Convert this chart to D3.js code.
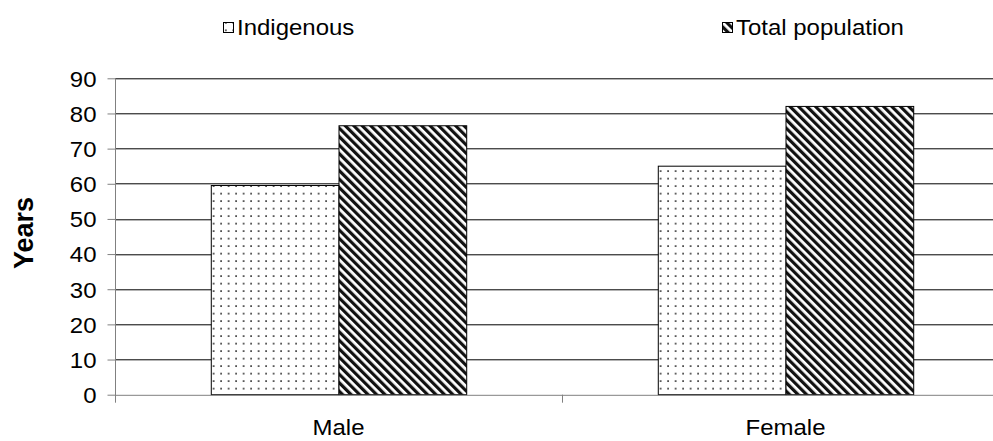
<!DOCTYPE html>
<html>
<head>
<meta charset="utf-8">
<script src="https://cdn.jsdelivr.net/npm/d3@7/dist/d3.min.js"></script>
<style>
  html, body { margin: 0; padding: 0; background: #fff; }
  svg { display: block; font-family: "Liberation Sans", Arial, sans-serif; }
</style>
</head>
<body>
<svg id="chart" width="993" height="441"></svg>
<script>
// Life expectancy at birth (years)
const categories = ["Male", "Female"];
const seriesNames = ["Indigenous", "Total population"];
const indigenous = [59.5, 65.0];
const totalPopulation = [76.5, 82.0];
const yTicks = [0, 10, 20, 30, 40, 50, 60, 70, 80, 90];

const FS = 22;          // label font size
const SX = 1.09;        // slightly wide lettering

const svg = d3.select("#chart");
const margin = { left: 115, top: 78.3, right: -16, bottom: 46.3 };
const W = 993, H = 441;
const plotW = W - margin.left - margin.right;
const plotH = H - margin.top - margin.bottom;

// Fill patterns: dotted for Indigenous, diagonal stripes for total population
const defs = svg.append("defs");
const dots = defs.append("pattern")
  .attr("id", "dots").attr("patternUnits", "userSpaceOnUse")
  .attr("width", 7.5).attr("height", 7.5);
dots.append("rect").attr("width", 7.5).attr("height", 7.5).attr("fill", "#fff");
dots.append("rect").attr("x", 2).attr("y", 2).attr("width", 1.7).attr("height", 1.7).attr("fill", "#3a3a3a");

const stripes = defs.append("pattern")
  .attr("id", "stripes").attr("patternUnits", "userSpaceOnUse")
  .attr("width", 6).attr("height", 6)
  .attr("patternTransform", "rotate(-45)");
stripes.append("rect").attr("width", 6).attr("height", 6).attr("fill", "#fff");
stripes.append("rect").attr("x", 0).attr("y", 0).attr("width", 3.2).attr("height", 6).attr("fill", "#111");

const fills = ["url(#dots)", "url(#stripes)"];

const g = svg.append("g").attr("transform", `translate(${margin.left},${margin.top})`);

const y = d3.scaleLinear().domain([0, 90]).range([plotH, 0]);
const x0 = d3.scaleBand().domain(categories).range([0, plotW]).paddingInner(0).paddingOuter(0);
// gap width 150% of a bar: group of 2 bars + 1.5 bars gap
const groupFrac = 2 / 3.5;
const x1 = d3.scaleBand().domain(seriesNames)
  .range([0, x0.bandwidth() * groupFrac]);
const groupOffset = x0.bandwidth() * (1 - groupFrac) / 2;

// Gridlines
g.append("g")
  .selectAll("line")
  .data(yTicks.filter(d => d > 0))
  .join("line")
  .attr("x1", 0).attr("x2", plotW)
  .attr("y1", d => Math.round(y(d)) + 0.5).attr("y2", d => Math.round(y(d)) + 0.5)
  .attr("stroke", "#000").attr("stroke-width", 1);

// Bars
const data = categories.map((c, i) => ({ cat: c, vals: [indigenous[i], totalPopulation[i]] }));
const groups = g.append("g").selectAll("g")
  .data(data).join("g")
  .attr("transform", d => `translate(${x0(d.cat) + groupOffset},0)`);
groups.selectAll("rect")
  .data(d => d.vals.map((v, j) => ({ v, s: seriesNames[j], j })))
  .join("rect")
  .attr("x", d => x1(d.s) + 0.5)
  .attr("y", d => y(d.v))
  .attr("width", x1.bandwidth())
  .attr("height", d => y(0) - y(d.v))
  .attr("fill", d => fills[d.j])
  .attr("stroke", "#000").attr("stroke-width", 1);

// Y axis
const yAxis = g.append("g")
  .attr("transform", "translate(0.5,0)")
  .call(d3.axisLeft(y).tickValues(yTicks).tickSize(8).tickPadding(10));
yAxis.select(".domain").attr("stroke", "#808080").attr("d", `M0,0V${plotH + 8}`);
yAxis.selectAll(".tick line").attr("stroke", "#808080");
yAxis.selectAll(".tick text")
  .attr("x", null).attr("dy", null)
  .attr("transform", `translate(-19,${FS * 0.36}) scale(${SX},1)`)
  .attr("font-size", FS).attr("fill", "#000")
  .attr("font-family", "Liberation Sans, Arial, sans-serif");

// X axis
const xAxis = g.append("g")
  .attr("transform", `translate(0,${Math.round(plotH) + 0.5})`)
  .call(d3.axisBottom(x0).tickSize(0));
xAxis.select(".domain").attr("stroke", "#808080");
xAxis.selectAll(".tick text")
  .attr("y", null).attr("dy", null)
  .attr("transform", `translate(0,40.5) scale(${SX},1)`)
  .attr("font-size", FS).attr("fill", "#000")
  .attr("font-family", "Liberation Sans, Arial, sans-serif");
// Category separator ticks
g.append("g").selectAll("line")
  .data(categories.slice(1))
  .join("line")
  .attr("x1", d => Math.round(x0(d)) + 0.5).attr("x2", d => Math.round(x0(d)) + 0.5)
  .attr("y1", plotH).attr("y2", plotH + 8)
  .attr("stroke", "#808080");

// Y axis title
svg.append("text")
  .attr("transform", `translate(33,233) rotate(-90)`)
  .attr("text-anchor", "middle")
  .attr("font-size", 27).attr("font-weight", "bold")
  .text("Years");

// Legend
const legendPos = [223, 722];
const legend = svg.append("g").selectAll("g")
  .data(seriesNames).join("g")
  .attr("transform", (d, i) => `translate(${legendPos[i]},20)`);
legend.append("rect")
  .attr("x", 0.5).attr("y", 2.5).attr("width", 10).attr("height", 10)
  .attr("fill", (d, i) => fills[i]).attr("stroke", "#000");
legend.append("text")
  .attr("transform", `translate(14,15) scale(${SX},1)`)
  .attr("font-size", FS)
  .text(d => d);
</script>
</body>
</html>
